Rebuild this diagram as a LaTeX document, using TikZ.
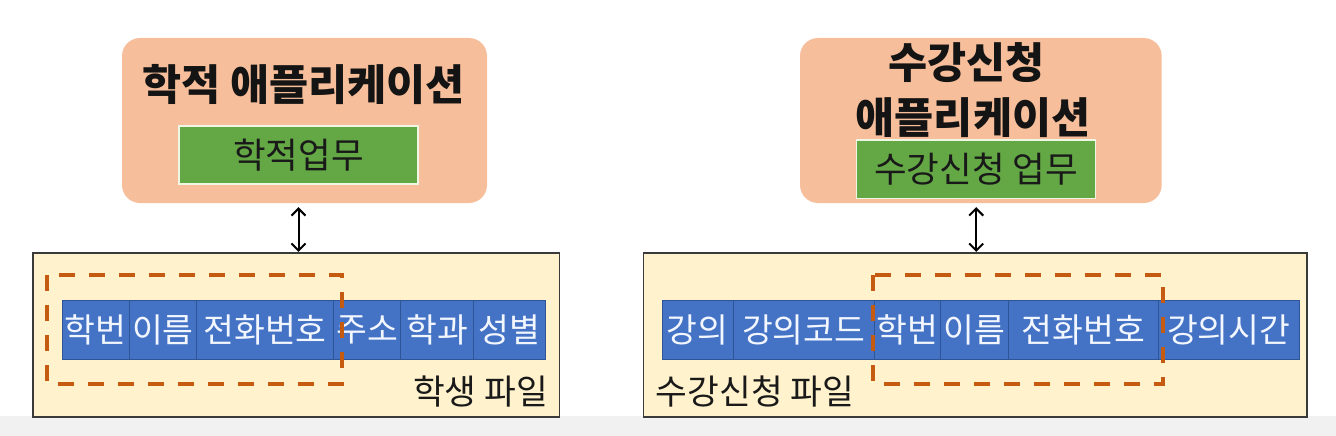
\documentclass[tikz,border=0pt]{standalone}
\usepackage{fontspec}
\setmainfont{Noto Sans CJK KR}
\usetikzlibrary{arrows.meta}
\definecolor{peach}{HTML}{F7BE9B}
\definecolor{taskgreen}{HTML}{63A845}
\definecolor{taskedge}{HTML}{EEF6E4}
\definecolor{filefill}{HTML}{FFF2CC}
\definecolor{fileedge}{HTML}{3A3A3A}
\definecolor{cellblue}{HTML}{4472C4}
\definecolor{celledge}{HTML}{2F5597}
\definecolor{celltext}{HTML}{F2F6FF}
\definecolor{grouporange}{HTML}{C55A11}
\definecolor{stripgray}{HTML}{F1F1F1}
\begin{document}
\begin{tikzpicture}[x=1pt,y=-1pt,
  appbox/.style={fill=peach, draw=none, rounded corners=18pt, inner sep=0pt},
  apptitle/.style={inner sep=0pt, text=black!92, font=\fontsize{42.5}{50}\selectfont\bfseries},
  taskbox/.style={fill=taskgreen, draw=taskedge, line width=1.5pt, inner sep=0pt, text=black!90, font=\fontsize{35.5}{42}\selectfont},
  filebox/.style={fill=filefill, draw=fileedge, line width=1.6pt, inner sep=0pt},
  cellbox/.style={fill=cellblue, draw=celledge, line width=0.8pt, inner sep=0pt, minimum height=58.6pt, text=celltext, font=\fontsize{33.5}{40}\selectfont},
  filelabel/.style={inner sep=0pt, text=black!90, font=\fontsize{34.5}{41}\selectfont},
  groupbox/.style={draw=grouporange, line width=3.6pt, dash pattern=on 16pt off 14pt},
  linkarrow/.style={draw=black, line width=2pt, {Straight Barb[length=7pt,width=14pt]}-{Straight Barb[length=7pt,width=14pt]}, shorten <=4pt}
]
\useasboundingbox (0,0) rectangle (1336,436);
\fill[stripgray] (0,416) rectangle (1336,436);

% left application
\node[appbox, minimum width=365pt, minimum height=165pt] (app1) at (304.5,120.5) {};
\node[apptitle] (t1) at (303.5,85) {학적 애플리케이션};
\node[taskbox, minimum width=239pt, minimum height=58pt] (g1) at (298.5,155) {학적업무};

% right application
\node[appbox, minimum width=361.7pt, minimum height=165pt] (app2) at (980.85,120.5) {};
\node[apptitle] (t2a) at (966.5,63) {수강신청};
\node[apptitle] (t2b) at (973,117.5) {애플리케이션};
\node[taskbox, minimum width=239pt, minimum height=58.3pt] (g2) at (976.2,169.15) {수강신청 업무};

% files
\node[filebox, minimum width=526.6pt, minimum height=164.3pt] (f1) at (296,334.85) {};
\node[filebox, minimum width=663.4pt, minimum height=164.3pt] (f2) at (975,334.85) {};

% left cells
\node[cellbox, minimum width=66.7pt] (c1) at (95.65,330) {학번};
\node[cellbox, minimum width=67.7pt] (c2) at (162.85,330) {이름};
\node[cellbox, minimum width=136.6pt] (c3) at (265,330) {전화번호};
\node[cellbox, minimum width=67.4pt] (c4) at (367,330) {주소};
\node[cellbox, minimum width=72.6pt] (c5) at (437,330) {학과};
\node[cellbox, minimum width=72.4pt] (c6) at (509.5,330) {성별};

% right cells
\node[cellbox, minimum width=71pt] (d1) at (697.8,330) {강의};
\node[cellbox, minimum width=141pt] (d2) at (803.8,330) {강의코드};
\node[cellbox, minimum width=66.4pt] (d3) at (907.5,330) {학번};
\node[cellbox, minimum width=67.6pt] (d4) at (974.5,330) {이름};
\node[cellbox, minimum width=150pt] (d5) at (1083.3,330) {전화번호};
\node[cellbox, minimum width=140.7pt] (d6) at (1228.65,330) {강의시간};

% dashed groups
\draw[groupbox] (46.7,275) rectangle (341.7,384);
\draw[groupbox] (872.7,275) rectangle (1162.7,384);

% file labels
\node[filelabel] (l1) at (480.5,392) {학생 파일};
\node[filelabel] (l2) at (755,392) {수강신청 파일};

% links
\draw[linkarrow] (app1.south -| g1) -- (f1.north -| g1);
\draw[linkarrow] (app2.south -| g2) -- (f2.north -| g2);
\end{tikzpicture}
\end{document}
